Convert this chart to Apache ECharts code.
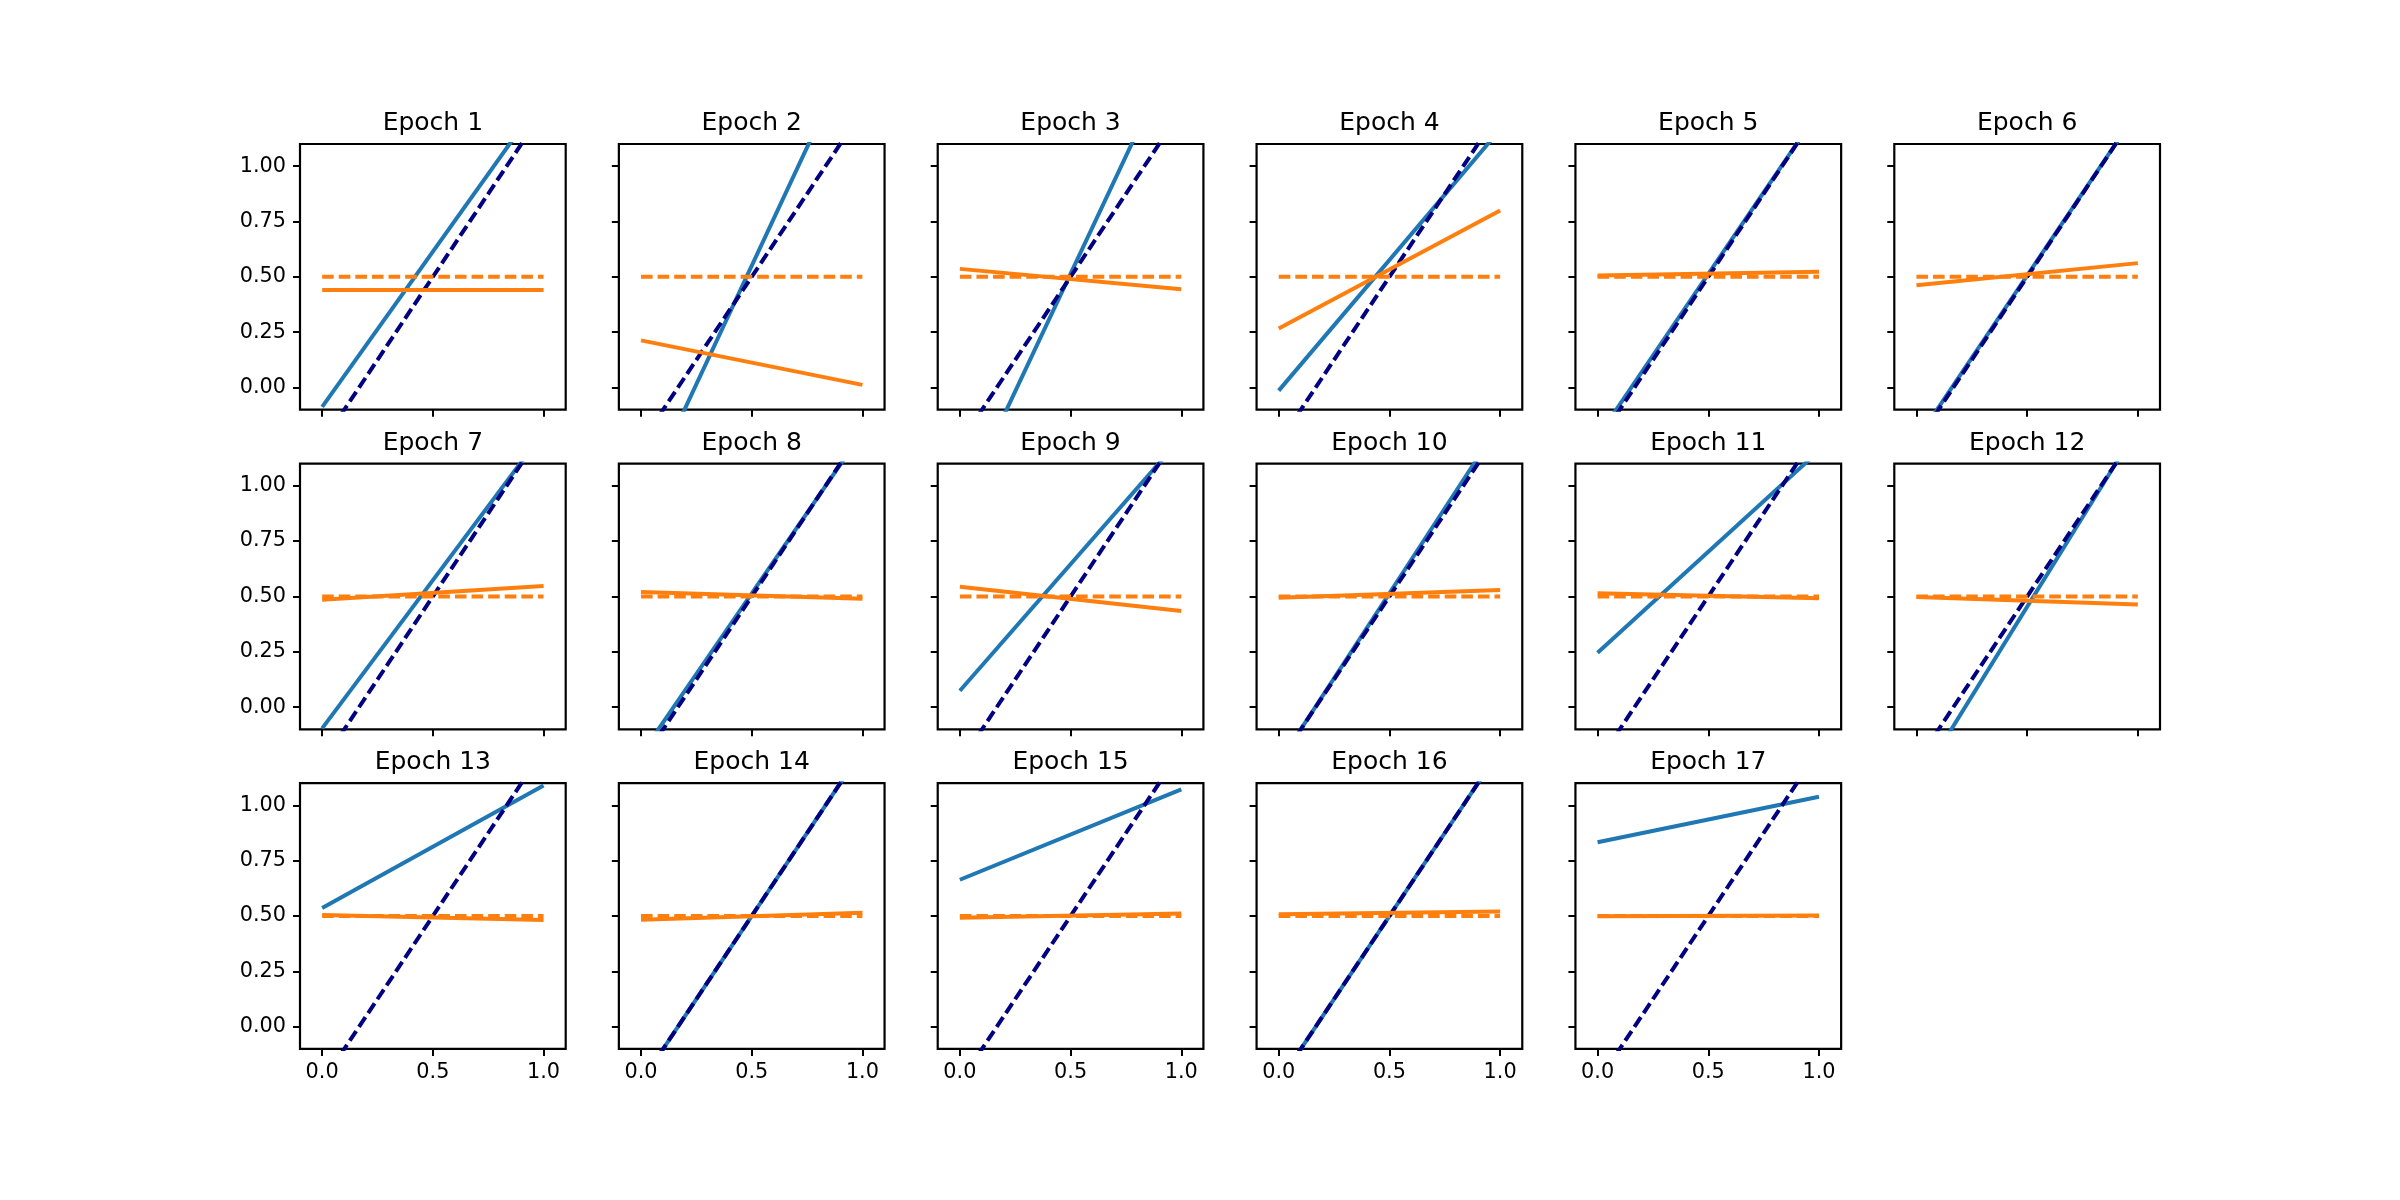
<!DOCTYPE html>
<html>
<head>
<meta charset="utf-8">
<script src="https://cdn.jsdelivr.net/npm/echarts@6/dist/echarts.min.js"></script>
<style>
html,body{margin:0;padding:0;background:#fff;}
#chart{width:2400px;height:1200px;}
</style>
</head>
<body>
<div id="chart"></div>
<script>
// ---- data ----
const epochTitles = ['Epoch 1','Epoch 2','Epoch 3','Epoch 4','Epoch 5','Epoch 6','Epoch 7','Epoch 8','Epoch 9',
  'Epoch 10','Epoch 11','Epoch 12','Epoch 13','Epoch 14','Epoch 15','Epoch 16','Epoch 17'];
const xEnds = [0, 1];
const xTickValues = [0, 0.5, 1];
const yTickValues = [0, 0.25, 0.5, 0.75, 1];
// target (dashed) lines
const targetBlue = [-0.25, 1.25];
const targetOrange = [0.5, 0.5];
// learned blue line value at x=0 and x=1 per epoch
const blueStart = [-0.087, -0.52, -0.548, -0.014, -0.224, -0.238, -0.096, -0.214, 0.074, -0.253, 0.246, -0.355, 0.536, -0.25, 0.664, -0.25, 0.833];
const blueEnd   = [1.315, 1.62, 1.576, 1.166, 1.25, 1.25, 1.242, 1.241, 1.217, 1.281, 1.158, 1.262, 1.09, 1.25, 1.072, 1.25, 1.039];
// learned orange line value at x=0 and x=1 per epoch
const orangeStart = [0.441, 0.213, 0.536, 0.267, 0.506, 0.462, 0.485, 0.52, 0.544, 0.494, 0.514, 0.498, 0.505, 0.483, 0.492, 0.508, 0.499];
const orangeEnd   = [0.441, 0.012, 0.444, 0.80, 0.523, 0.562, 0.547, 0.49, 0.434, 0.529, 0.492, 0.464, 0.482, 0.515, 0.512, 0.521, 0.503];

// ---- layout ----
const NCOL = 6;
const BOX = 265.7;
const LEFT0 = 300, COLSTEP = 318.86;
const TOP0 = 144, ROWSTEP = 319.6;
const FONT = 'DejaVu Sans';
const LW = 4;
const DASH = [11.6, 5];

const grids = [], xAxes = [], yAxes = [], series = [], titles = [];
const nRows = Math.ceil(epochTitles.length / NCOL);

epochTitles.forEach((t, i) => {
  const r = Math.floor(i / NCOL), c = i % NCOL;
  const left = LEFT0 + c * COLSTEP;
  const top = TOP0 + r * ROWSTEP;
  grids.push({left: left, top: top, width: BOX, height: BOX, show: true,
    borderColor: '#000', borderWidth: 2.2, backgroundColor: '#fff', containLabel: false});
  titles.push({text: t, left: left + BOX / 2, top: top - 33, textAlign: 'center', padding: 0,
    textStyle: {fontFamily: FONT, fontSize: 25, fontWeight: 'normal', color: '#000'}});
  const showX = (r === nRows - 1);
  const showY = (c === 0);
  xAxes.push({type: 'value', gridIndex: i, min: -0.1, max: 1.1, position: 'bottom',
    axisLine: {show: false, onZero: false}, splitLine: {show: false},
    axisTick: {show: true, length: 7, lineStyle: {color: '#000', width: 2}, customValues: xTickValues},
    axisLabel: {show: showX, customValues: xTickValues, margin: 13, color: '#000',
      fontFamily: FONT, fontSize: 20.8, formatter: v => Number(v).toFixed(1)}});
  yAxes.push({type: 'value', gridIndex: i, min: -0.1, max: 1.1, position: 'left',
    axisLine: {show: false, onZero: false}, splitLine: {show: false},
    axisTick: {show: true, length: 7, lineStyle: {color: '#000', width: 2}, customValues: yTickValues},
    axisLabel: {show: showY, customValues: yTickValues, margin: 14, color: '#000',
      fontFamily: FONT, fontSize: 20.8, formatter: v => Number(v).toFixed(2)}});
  const mk = (ys) => xEnds.map((x, k) => [x, ys[k]]);
  const base = {type: 'line', xAxisIndex: i, yAxisIndex: i, symbol: 'none', clip: true,
    silent: true, animation: false};
  series.push(Object.assign({}, base, {data: mk([blueStart[i], blueEnd[i]]),
    lineStyle: {color: '#1f77b4', width: LW}}));
  series.push(Object.assign({}, base, {data: mk(targetBlue),
    lineStyle: {color: '#000080', width: LW, type: DASH}}));
  series.push(Object.assign({}, base, {data: mk([orangeStart[i], orangeEnd[i]]),
    lineStyle: {color: '#ff7f0e', width: LW}}));
  series.push(Object.assign({}, base, {data: mk(targetOrange),
    lineStyle: {color: '#ff7f0e', width: LW, type: DASH}}));
});

const chart = echarts.init(document.getElementById('chart'), null, {renderer: 'canvas'});
chart.setOption({
  backgroundColor: '#fff',
  animation: false,
  title: titles,
  grid: grids,
  xAxis: xAxes,
  yAxis: yAxes,
  series: series
});
</script>
</body>
</html>
